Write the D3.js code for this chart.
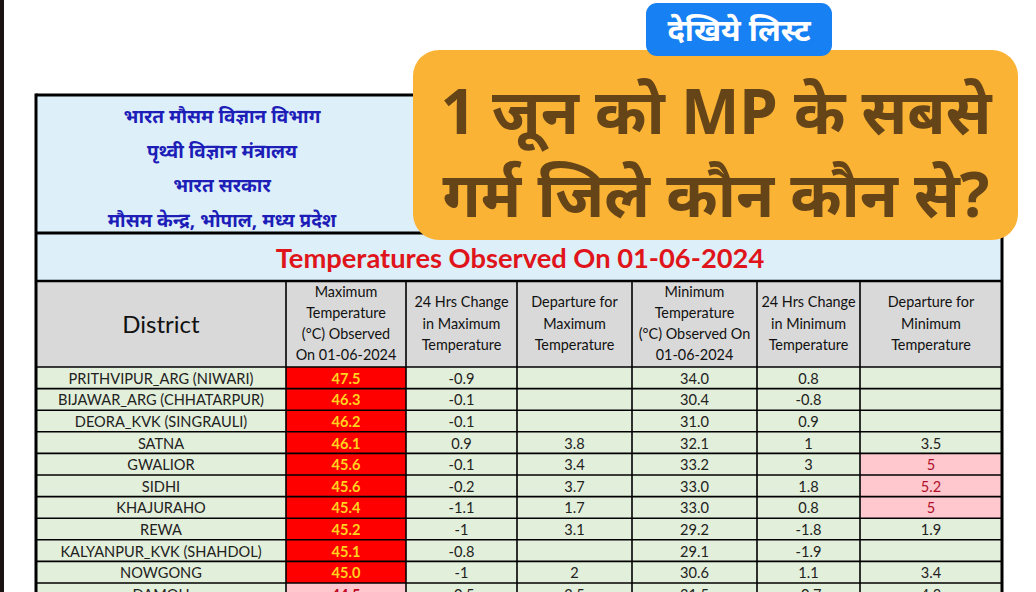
<!DOCTYPE html>
<html><head><meta charset="utf-8">
<script src="https://cdn.jsdelivr.net/npm/d3@7"></script>
<style>
html,body{margin:0;padding:0;background:#fff;}
svg{display:block;}
</style></head>
<body>
<svg id="c" width="1036" height="592"></svg>
<script>
// ---- data ----
const districts = ["PRITHVIPUR_ARG (NIWARI)","BIJAWAR_ARG (CHHATARPUR)","DEORA_KVK (SINGRAULI)","SATNA","GWALIOR","SIDHI","KHAJURAHO","REWA","KALYANPUR_KVK (SHAHDOL)","NOWGONG","DAMOH"];
const maxTemp = ["47.5","46.3","46.2","46.1","45.6","45.6","45.4","45.2","45.1","45.0","44.5"];
const change24Max = ["-0.9","-0.1","-0.1","0.9","-0.1","-0.2","-1.1","-1","-0.8","-1","-0.5"];
const departureMax = ["","","","3.8","3.4","3.7","1.7","3.1","","2","2.5"];
const minTemp = ["34.0","30.4","31.0","32.1","33.2","33.0","33.0","29.2","29.1","30.6","31.5"];
const change24Min = ["0.8","-0.8","0.9","1","3","1.8","0.8","-1.8","-1.9","1.1","-0.7"];
const departureMin = ["","","","3.5","5","5.2","5","1.9","","3.4","4.3"];
const columnHeaders = [
  ["District"],
  ["Maximum","Temperature","(°C) Observed","On 01-06-2024"],
  ["24 Hrs Change","in Maximum","Temperature"],
  ["Departure for","Maximum","Temperature"],
  ["Minimum","Temperature","(°C) Observed On","01-06-2024"],
  ["24 Hrs Change","in Minimum","Temperature"],
  ["Departure for","Minimum","Temperature"]
];
const orgLines = ["भारत मौसम विज्ञान विभाग","पृथ्वी विज्ञान मंत्रालय","भारत सरकार","मौसम केन्द्र, भोपाल, मध्य प्रदेश"];
const tableTitle = "Temperatures Observed On 01-06-2024";
const badgeText = "देखिये लिस्ट";
const headlineLines = ["1 जून को MP के सबसे","गर्म जिले कौन कौन से?"];

// ---- layout ----
const svg = d3.select("#c");
const FONT = "Lato, 'Open Sans', sans-serif";
const DEV = "'Noto Sans', 'Noto Sans Devanagari', Lato, sans-serif";
const colEdges = [36,286,406,517,632,757,860,1002];
const tableTop = 95, orgBottom = 233, titleBottom = 281, headBottom = 367, rowH = 21.6;

const columns = [districts, maxTemp, change24Max, departureMax, minTemp, change24Min, departureMin];
const colIdx = d3.range(columns.length);
const xLeft = d3.scaleOrdinal().domain(colIdx).range(colEdges.slice(0,-1));
const xRight = d3.scaleOrdinal().domain(colIdx).range(colEdges.slice(1));
const y = d3.scaleBand().domain(districts).range([headBottom, headBottom + rowH*districts.length]).paddingInner(0).paddingOuter(0);

// left dark edge
svg.append("rect").attr("x",0).attr("y",0).attr("width",4).attr("height",592).attr("fill","#1b1313");

// org header block
svg.append("rect").attr("x",36).attr("y",tableTop).attr("width",966).attr("height",titleBottom-tableTop).attr("fill","#ddf0fa");
svg.selectAll("text.org").data(orgLines).join("text")
  .attr("class","org").attr("x",222).attr("y",(d,i)=>116+i*34.5)
  .attr("text-anchor","middle").attr("dominant-baseline","central")
  .attr("font-family",DEV).attr("font-weight",700).attr("font-size",19).attr("fill","#1d1db8")
  .text(d=>d);
svg.append("text").attr("x",520).attr("y",257).attr("text-anchor","middle").attr("dominant-baseline","central")
  .attr("font-family",FONT).attr("font-weight",700).attr("font-size",27.3).attr("fill","#e0141b").text(tableTitle);

// column header row
svg.append("rect").attr("x",36).attr("y",titleBottom).attr("width",966).attr("height",headBottom-titleBottom).attr("fill","#d9d9d9");
const hg = svg.append("g");
columnHeaders.forEach((lines,ci)=>{
  const cx = (xLeft(ci)+xRight(ci))/2;
  const big = ci===0;
  const lh = 21.3;
  const mid = (titleBottom+headBottom)/2 - 1;
  hg.selectAll(null).data(lines).join("text")
    .attr("x",cx).attr("y",(d,i)=> mid + (i-(lines.length-1)/2)*lh)
    .attr("text-anchor","middle").attr("dominant-baseline","central")
    .attr("font-family",FONT).attr("font-size",big?24:14.4).attr("fill","#111").text(d=>d);
});

// data cells
const cells = [];
districts.forEach((d,ri)=>{
  colIdx.forEach(ci=>{ cells.push({row:d, ri, ci, v:columns[ci][ri]}); });
});
function cellFill(c){
  if(c.ci===1){ return (+c.v>=45) ? "#ff0000" : "#ffc7ce"; }
  if(c.ci===6 && c.v!=="" && +c.v>=5) return "#ffc7ce";
  return "#e2efda";
}
function textFill(c){
  if(c.ci===1){ return (+c.v>=45) ? "#ffd21f" : "#c0061f"; }
  if(c.ci===6 && c.v!=="" && +c.v>=5) return "#b0102a";
  return "#222";
}
const cg = svg.append("g");
cg.selectAll("rect").data(cells).join("rect")
  .attr("x",c=>xLeft(c.ci)).attr("y",c=>y(c.row))
  .attr("width",c=>xRight(c.ci)-xLeft(c.ci)).attr("height",y.bandwidth())
  .attr("fill",cellFill);
cg.selectAll("text").data(cells).join("text")
  .attr("x",c=>(xLeft(c.ci)+xRight(c.ci))/2).attr("y",c=>y(c.row)+y.bandwidth()/2+0.5)
  .attr("text-anchor","middle").attr("dominant-baseline","central")
  .attr("font-family",FONT).attr("font-size",14.6)
  .attr("font-weight",c=>c.ci===1?700:400)
  .attr("fill",textFill).text(c=>c.v);

// grid lines
const lg = svg.append("g").attr("stroke","#000");
const rowLines = districts.map(d=>y(d)).concat([y(districts[districts.length-1])+y.bandwidth()]);
lg.selectAll("line.r").data(rowLines).join("line").attr("class","r")
  .attr("x1",36).attr("x2",1002).attr("y1",d=>d).attr("y2",d=>d).attr("stroke-width",1.6);
lg.selectAll("line.c").data(colEdges.slice(1,-1)).join("line").attr("class","c")
  .attr("x1",d=>d).attr("x2",d=>d).attr("y1",titleBottom).attr("y2",620).attr("stroke-width",1.6);
lg.append("line").attr("x1",36).attr("x2",1002).attr("y1",orgBottom).attr("y2",orgBottom).attr("stroke-width",3);
lg.append("line").attr("x1",36).attr("x2",1002).attr("y1",titleBottom).attr("y2",titleBottom).attr("stroke-width",2.5);
lg.append("line").attr("x1",36).attr("x2",1002).attr("y1",tableTop).attr("y2",tableTop).attr("stroke-width",3);
lg.append("line").attr("x1",36).attr("x2",36).attr("y1",tableTop-1.5).attr("y2",620).attr("stroke-width",3);
lg.append("line").attr("x1",1002).attr("x2",1002).attr("y1",tableTop-1.5).attr("y2",620).attr("stroke-width",3);

// headline banner
svg.append("rect").attr("x",413).attr("y",50).attr("width",605).attr("height",190).attr("rx",26)
  .attr("fill","#fbb335");
svg.selectAll("text.hl").data(headlineLines).join("text").attr("class","hl")
  .attr("x",716).attr("y",(d,i)=>110+i*83).attr("text-anchor","middle").attr("dominant-baseline","central")
  .attr("font-family",DEV).attr("font-weight",700).attr("font-size",62).attr("fill","#654518")
  .text(d=>d);
svg.append("rect").attr("x",646).attr("y",3).attr("width",186).attr("height",53).attr("rx",11).attr("fill","#1780f2");
svg.append("text").attr("x",739).attr("y",29).attr("text-anchor","middle").attr("dominant-baseline","central")
  .attr("font-family",DEV).attr("font-weight",700).attr("font-size",31).attr("fill","#fff").text(badgeText);
</script>
</body></html>
